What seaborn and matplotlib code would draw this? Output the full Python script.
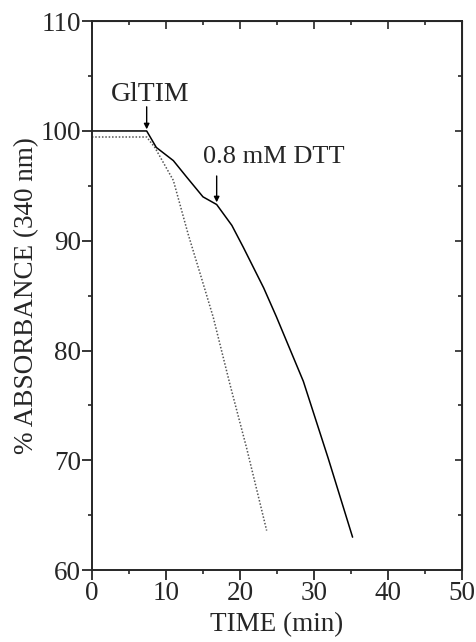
import numpy as np
import pandas as pd
import matplotlib
matplotlib.use("Agg")
import matplotlib.pyplot as plt
import seaborn as sns

# --- data ---
solid_t = [0, 7.4, 8.7, 11.0, 12.8, 15.0, 16.85, 18.9, 20.45, 23.2, 24.9, 28.55, 31.9, 35.2]
solid_y = [100, 100, 98.5, 97.3, 95.8, 94.0, 93.3, 91.4, 89.4, 85.7, 83.1, 77.2, 70.2, 63.0]

dotted_t = [0, 7.4, 8.5, 11.0, 13.0, 14.8, 16.4, 18.65, 20.9, 23.6]
dotted_y = [99.45, 99.45, 98.5, 95.5, 90.6, 86.6, 83.0, 76.9, 71.1, 63.6]

x_ticks = [0, 10, 20, 30, 40, 50]
y_ticks = [60, 70, 80, 90, 100, 110]

sns.set_style("ticks")
plt.rcParams["font.family"] = ["Liberation Serif", "DejaVu Serif"]

solid_df = pd.DataFrame({"t": solid_t, "y": solid_y})
dotted_df = pd.DataFrame({"t": dotted_t, "y": dotted_y})

fig = plt.figure(figsize=(4.76, 6.42), dpi=100)
ax = fig.add_axes([0.193, 0.112, 0.778, 0.855])

sns.lineplot(data=dotted_df, x="t", y="y", ax=ax, color="#555555",
             linestyle=(0, (1, 1.2)), linewidth=1.1, sort=False)
sns.lineplot(data=solid_df, x="t", y="y", ax=ax, color="black",
             linewidth=1.1, sort=False)

ax.set_xlim(0, 50)
ax.set_ylim(60, 110)
ax.set_xticks(x_ticks)
ax.set_yticks(y_ticks)
ax.set_xticks(np.arange(5, 50, 10), minor=True)
ax.set_yticks(np.arange(65, 110, 10), minor=True)
ax.tick_params(which="major", direction="out", length=7, width=1.3, labelsize=19.5, pad=1)
ax.tick_params(which="minor", direction="out", length=3, width=1.2)

for s in ax.spines.values():
    s.set_linewidth(1.4)

# mirrored ticks pointing inward on top and right
top = ax.secondary_xaxis("top")
top.set_xticks(x_ticks)
top.set_xticks(np.arange(5, 50, 10), minor=True)
top.tick_params(which="major", direction="in", length=6, width=1.2, labeltop=False)
top.tick_params(which="minor", direction="in", length=3, width=1.2)
right = ax.secondary_yaxis("right")
right.set_yticks(y_ticks)
right.set_yticks(np.arange(65, 110, 10), minor=True)
right.tick_params(which="major", direction="in", length=5, width=1.2, labelright=False)
right.tick_params(which="minor", direction="in", length=3, width=1.2)

ax.set_xlabel("TIME (min)", fontsize=19.5, labelpad=4)
ax.set_ylabel("% ABSORBANCE (340 nm)", fontsize=19.5, labelpad=1)

ax.text(7.85, 103.3, "GlTIM", ha="center", va="center", fontsize=20)
ax.annotate("", xy=(7.4, 100.15), xytext=(7.4, 102.2),
            arrowprops=dict(arrowstyle="-|>", color="black", lw=1.0,
                            mutation_scale=8, shrinkA=0, shrinkB=0))
ax.text(24.5, 97.6, "0.8 mM DTT", ha="center", va="center", fontsize=19)
ax.annotate("", xy=(16.85, 93.5), xytext=(16.85, 95.9),
            arrowprops=dict(arrowstyle="-|>", color="black", lw=1.0,
                            mutation_scale=8, shrinkA=0, shrinkB=0))

fig.savefig("out.png", dpi=100)
